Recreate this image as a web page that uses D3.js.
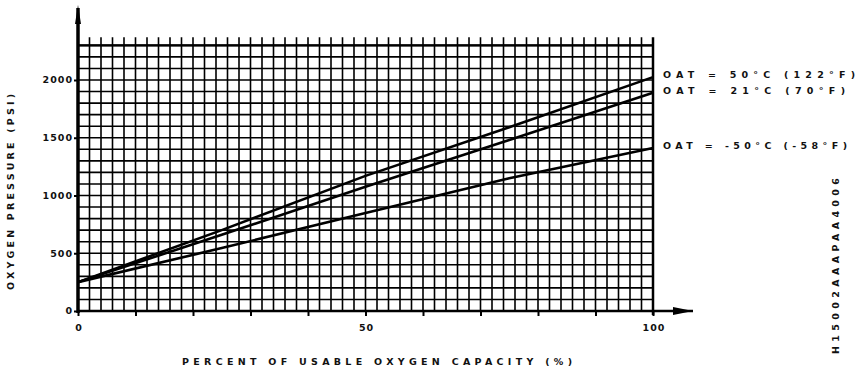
<!DOCTYPE html>
<html>
<head>
<meta charset="utf-8">
<script src="https://cdn.jsdelivr.net/npm/d3@7"></script>
<style>
  html, body { margin: 0; padding: 0; background: #fff; }
  svg { display: block; }
  text { font-family: "DejaVu Sans", "Liberation Sans", sans-serif; fill: #111; font-weight: bold; }
</style>
</head>
<body>
<svg id="chart" width="858" height="373"></svg>
<script>
// ---- data ----
const capacityPct = [0, 25, 50, 75, 100];
const seriesNames = ["OAT = 50°C (122°F)", "OAT = 21°C (70°F)", "OAT = -50°C (-58°F)"];
const seriesHot  = [250, 700, 1170, 1590, 2025];
const seriesMid  = [250, 660, 1075, 1480, 1890];
const seriesCold = [250, 545, 848, 1150, 1412];
const xTickValues = [0, 50, 100];
const yTickValues = [0, 500, 1000, 1500, 2000];
const xTitle = "PERCENT OF USABLE OXYGEN CAPACITY (%)";
const yTitle = "OXYGEN PRESSURE (PSI)";
const figureId = "H15002AAAPAA4006";

// ---- layout ----
const svg = d3.select("#chart");
const x = d3.scaleLinear().domain([0, 100]).range([78, 653]);
const y = d3.scaleLinear().domain([0, 2000]).range([311, 80]);
const yFrameTop = 2300;

const g = svg.append("g");

// grid: every 2% and every 100 psi
const gridX = d3.range(2, 100, 2);
const gridY = d3.range(100, yFrameTop + 1, 100);
g.append("g").selectAll("line").data(gridX).join("line")
  .attr("x1", d => x(d)).attr("x2", d => x(d))
  .attr("y1", y(yFrameTop) - 8).attr("y2", y(0))
  .attr("stroke", "#000").attr("stroke-width", 1.6);
g.append("g").selectAll("line").data(gridY).join("line")
  .attr("x1", x(0)).attr("x2", x(100))
  .attr("y1", d => y(d)).attr("y2", d => y(d))
  .attr("stroke", "#000").attr("stroke-width", 1.6);
// right frame
g.append("line").attr("x1", x(100)).attr("x2", x(100))
  .attr("y1", y(yFrameTop) - 8).attr("y2", y(0) + 4)
  .attr("stroke", "#000").attr("stroke-width", 2.5);
g.append("line").attr("x1", x(0)).attr("x2", x(100))
  .attr("y1", y(yFrameTop)).attr("y2", y(yFrameTop))
  .attr("stroke", "#000").attr("stroke-width", 2.2);

// axes
const xAxis = d3.axisBottom(x).tickValues(d3.range(0, 101, 10)).tickSize(5).tickFormat("");
const xa = g.append("g").attr("transform", `translate(0,${y(0)})`).call(xAxis);
xa.select(".domain").remove();
xa.selectAll(".tick line").attr("stroke", "#000").attr("stroke-width", 2);

const yAxis = d3.axisLeft(y).tickValues(yTickValues).tickSize(4).tickFormat("");
const ya = g.append("g").attr("transform", `translate(${x(0)},0)`).call(yAxis);
ya.select(".domain").remove();
ya.selectAll(".tick line").attr("stroke", "#000").attr("stroke-width", 2);

// axis lines with arrows
g.append("line").attr("x1", x(0)).attr("x2", x(0)).attr("y1", y(0) + 2).attr("y2", 8)
  .attr("stroke", "#000").attr("stroke-width", 3.5);
g.append("path").attr("d", `M${x(0)},5 L${x(0) - 3},24 L${x(0) + 3},24 Z`).attr("fill", "#000");
g.append("line").attr("x1", x(0)).attr("x2", 693).attr("y1", y(0)).attr("y2", y(0))
  .attr("stroke", "#000").attr("stroke-width", 2.5);
g.append("path").attr("d", `M693,${y(0)} L673,${y(0) - 4} L673,${y(0) + 4} Z`).attr("fill", "#000");

// tick labels
g.append("g").selectAll("text").data(yTickValues).join("text")
  .attr("x", x(0) - 5).attr("y", d => y(d)).attr("dy", "0.35em")
  .attr("text-anchor", "end").attr("font-size", 9.5).attr("letter-spacing", 1)
  .text(d => d);
g.append("g").selectAll("text").data(xTickValues).join("text")
  .attr("x", d => x(d) + 1).attr("y", y(0) + 20)
  .attr("text-anchor", "middle").attr("font-size", 9.5).attr("letter-spacing", 1)
  .text(d => d);

// series lines
const allSeries = [seriesHot, seriesMid, seriesCold];
const line = d3.line().x((d, i) => x(capacityPct[i])).y(d => y(d));
g.append("g").selectAll("path").data(allSeries).join("path")
  .attr("d", line).attr("fill", "none").attr("stroke", "#000").attr("stroke-width", 2.6);

// series labels
const labelWidths = [192, 182, 184];
g.append("g").selectAll("text").data(allSeries).join("text")
  .attr("x", x(100) + 10).attr("y", d => y(d[d.length - 1]) - 2).attr("dy", "0.35em")
  .attr("font-size", 9.5)
  .attr("textLength", (d, i) => labelWidths[i]).attr("lengthAdjust", "spacing")
  .text((d, i) => seriesNames[i]);

// titles
svg.append("text").attr("x", 377).attr("y", 365).attr("text-anchor", "middle")
  .attr("font-size", 9.5).attr("textLength", 390).attr("lengthAdjust", "spacing")
  .text(xTitle);
svg.append("text").attr("transform", "translate(14,192) rotate(-90)").attr("text-anchor", "middle")
  .attr("font-size", 9.5).attr("textLength", 196).attr("lengthAdjust", "spacing")
  .text(yTitle);
svg.append("text").attr("transform", "translate(839,266) rotate(-90)").attr("text-anchor", "middle")
  .attr("font-size", 9.5).attr("textLength", 176).attr("lengthAdjust", "spacing")
  .text(figureId);
</script>
</body>
</html>
